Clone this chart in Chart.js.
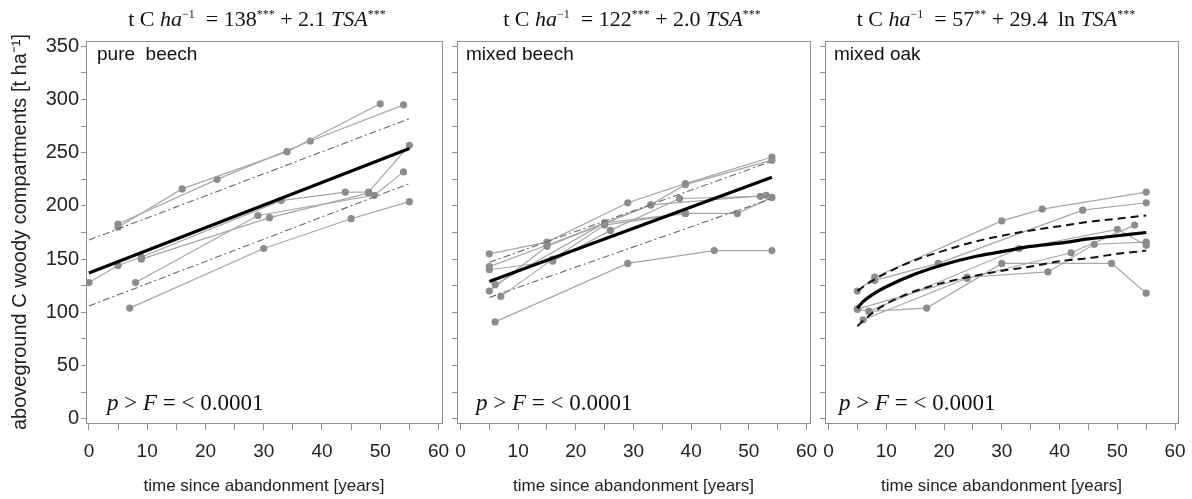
<!DOCTYPE html>
<html>
<head>
<meta charset="utf-8">
<script src="https://cdn.jsdelivr.net/npm/chart.js@4.4.1/dist/chart.umd.min.js"></script>
<style>
  html, body { margin:0; padding:0; background:#fff; }
  #wrap { position:relative; width:1192px; height:499px; overflow:hidden; background:#fff; }
  .panel { position:absolute; top:0; }
  .eq { position:absolute; top:6px; font-family:"Liberation Serif","DejaVu Serif",serif; font-size:22px; color:#111; white-space:nowrap; transform:translateX(-50%); }
  .eq sup { font-size:12px; vertical-align:8px; line-height:0; }
  .lab { position:absolute; top:43px; font-family:"Liberation Sans",Arial,sans-serif; font-size:19px; color:#111; white-space:pre; }
  .pf { position:absolute; top:390px; font-family:"Liberation Serif","DejaVu Serif",serif; font-size:23px; color:#111; white-space:pre; }
</style>
</head>
<body>
<div id="wrap">
  <div class="panel" style="left:0px"><canvas id="c1" width="450" height="499"></canvas></div>
  <div class="panel" style="left:447px"><canvas id="c2" width="375" height="499"></canvas></div>
  <div class="panel" style="left:815px"><canvas id="c3" width="375" height="499"></canvas></div>

  <div class="eq" style="left:257px">t C <i>ha</i><sup>−1</sup> &nbsp;= 138<sup>***</sup> + 2.1 <i>TSA</i><sup>***</sup></div>
  <div class="eq" style="left:632px">t C <i>ha</i><sup>−1</sup> &nbsp;= 122<sup>***</sup> + 2.0 <i>TSA</i><sup>***</sup></div>
  <div class="eq" style="left:996px">t C <i>ha</i><sup>−1</sup> &nbsp;= 57<sup>**</sup> + 29.4 &thinsp;ln <i>TSA</i><sup>***</sup></div>

  <div class="lab" style="left:97px">pure  beech</div>
  <div class="lab" style="left:466px">mixed beech</div>
  <div class="lab" style="left:834px">mixed oak</div>

  <div class="pf" style="left:107px"><i>p</i> &gt; <i>F</i> = &lt; 0.0001</div>
  <div class="pf" style="left:476px"><i>p</i> &gt; <i>F</i> = &lt; 0.0001</div>
  <div class="pf" style="left:839px"><i>p</i> &gt; <i>F</i> = &lt; 0.0001</div>
</div>
<script>
// ---------- tick labels ----------
const xTickValues = [0,5,10,15,20,25,30,35,40,45,50,55,60];
const yTickValues = [0,25,50,75,100,125,150,175,200,225,250,275,300,325,350];
const yAxisTitle = 'aboveground C woody compartments [t ha⁻¹]';
const xAxisTitle = 'time since abandonment [years]';

// ---------- pure beech: plot trajectories [years, t/ha] ----------
const pb1 = [[5,180],[16,216],[34,251],[50,296]];
const pb2 = [[5,183],[22,225],[38,261],[54,295]];
const pb3 = [[0,128],[5,144],[9,152],[33,205],[44,213],[48,213],[55,257]];
const pb4 = [[8,128],[29,191],[49,210],[54,232]];
const pb5 = [[7,104],[30,160],[45,188],[55,204]];
const pb6 = [[9,150],[31,189],[48,212]];
const pbFit = [[0,137],[55,254]];
const pbUpper = [[0,168],[55,282]];
const pbLower = [[0,106],[55,221]];

// ---------- mixed beech ----------
const mb1 = [[6,91],[29,146],[44,158],[54,158]];
const mb2 = [[5,155],[15,166],[29,203],[39,221],[54,246]];
const mb3 = [[5,143],[15,163],[25,184],[33,201],[39,220],[54,243]];
const mb4 = [[5,140],[16,148],[26,177],[38,207],[52,209]];
const mb5 = [[6,126],[25,184],[39,193],[48,193],[54,208]];
const mb6 = [[5,120],[15,162],[33,201],[53,210]];
const mb7 = [[7,115],[16,150],[25,182],[39,193]];
const mbFit = [[5,129],[54,227]];
const mbUpper = [[5,147],[54,242]];
const mbLower = [[5,114],[54,207]];

// ---------- mixed oak ----------
const mo1 = [[5,120],[8,133],[30,186],[37,197],[55,213]];
const mo2 = [[8,130],[19,146],[44,196],[55,203]];
const mo3 = [[5,103],[7,101],[17,104],[30,146],[49,146],[55,118]];
const mo4 = [[5,103],[24,133],[38,138],[46,164],[55,166]];
const mo5 = [[6,93],[24,132],[42,156],[53,182]];
const mo6 = [[7,101],[33,160],[50,178],[55,163]];
const moFitT   = [5,6,8,10,15,20,25,30,35,40,45,50,55];
const moFit    = [104,110,118,124,136,145,152,157,162,165,169,172,175];
const moUpper  = [120,124,131,137,149,158,166,172,177,181,185,188,191];
const moLower  = [87,92,101,108,120,128,134,139,143,148,151,155,158];

// ---------- helpers ----------
const toXY = arr => arr.map(p => ({x:p[0], y:p[1]}));
const zipXY = (xs, ys) => xs.map((x,i) => ({x:x, y:ys[i]}));
const GRAY_LINE = '#a6a6a6';
const GRAY_PT = '#8c8c8c';
const AXIS = '#8f8f8f';
const SANS = '"Liberation Sans", Arial, sans-serif';

function traj(arr) {
  return { data: toXY(arr), showLine: true, borderColor: GRAY_LINE, borderWidth: 1.2,
    pointRadius: 3.6, pointBackgroundColor: GRAY_PT, pointBorderWidth: 0, order: 3 };
}
function fitLine(data, curved) {
  return { data: data, showLine: true, borderColor: '#000', borderWidth: 3.2, pointRadius: 0,
    cubicInterpolationMode: curved ? 'monotone' : 'default', order: 1 };
}
function band(data, curved, strong) {
  return { data: data, showLine: true, borderColor: strong ? '#111' : '#666',
    borderWidth: strong ? 2 : 1.1, borderDash: strong ? [8,5] : [7,3,2,3], pointRadius: 0,
    cubicInterpolationMode: curved ? 'monotone' : 'default', order: 2 };
}

const boxPlugin = {
  id: 'box',
  afterDraw(chart) {
    const a = chart.chartArea, ctx = chart.ctx;
    ctx.save();
    ctx.strokeStyle = AXIS; ctx.lineWidth = 1;
    ctx.strokeRect(Math.round(a.left)+0.5, Math.round(a.top)+0.5, Math.round(a.right-a.left), Math.round(a.bottom-a.top));
    ctx.restore();
  }
};

function zeroPad(s) { s.paddingLeft = 0; s.paddingRight = 0; s.paddingTop = 0; s.paddingBottom = 0; }

function makeChart(id, datasets, opts) {
  return new Chart(document.getElementById(id), {
    type: 'scatter',
    data: { datasets: datasets },
    options: {
      responsive: false, animation: false, devicePixelRatio: 1,
      layout: { padding: { top: 41, right: opts.padRight, bottom: 0, left: 0 } },
      plugins: { legend: { display: false }, tooltip: { enabled: false }, title: { display: false } },
      scales: {
        x: {
          type: 'linear', min: opts.xmin, max: opts.xmax,
          afterBuildTicks: s => { s.ticks = xTickValues.map(v => ({value: v})); },
          afterFit: s => { s.height = 76; zeroPad(s); },
          ticks: { font: { family: SANS, size: 19 }, color: '#222', padding: 10, maxRotation: 0,
                   autoSkip: false, callback: v => (v % 10 === 0 ? String(v) : '') },
          grid: { drawOnChartArea: false, drawTicks: true, tickLength: 7, color: AXIS },
          border: { display: true, color: AXIS },
          title: { display: true, text: xAxisTitle, font: { family: SANS, size: 17 }, color: '#222',
                   padding: { top: 0, bottom: 2 } }
        },
        y: {
          type: 'linear', min: -4, max: 355,
          afterBuildTicks: s => { s.ticks = yTickValues.map(v => ({value: v})); },
          afterFit: s => { s.width = opts.yWidth; zeroPad(s); },
          ticks: { display: true, font: { family: SANS, size: 20 }, color: '#222', padding: 2,
                   autoSkip: false,
                   callback: v => (opts.yLabels && v % 50 === 0 ? String(v) : '') },
          grid: { drawOnChartArea: false, drawTicks: true, tickLength: 5, color: AXIS },
          border: { display: true, color: AXIS },
          title: { display: opts.yLabels, text: yAxisTitle, font: { family: SANS, size: 20 }, color: '#222',
                   padding: { top: 8, bottom: 0 } }
        }
      }
    },
    plugins: [boxPlugin]
  });
}

makeChart('c1', [
  traj(pb1), traj(pb2), traj(pb3), traj(pb4), traj(pb5), traj(pb6),
  band(toXY(pbUpper), false, false), band(toXY(pbLower), false, false),
  fitLine(toXY(pbFit), false)
], { xmin: -0.5, xmax: 60.6, yWidth: 86, padRight: 8, yLabels: true });

makeChart('c2', [
  traj(mb1), traj(mb2), traj(mb3), traj(mb4), traj(mb5), traj(mb6), traj(mb7),
  band(toXY(mbUpper), false, false), band(toXY(mbLower), false, false),
  fitLine(toXY(mbFit), false)
], { xmin: -0.6, xmax: 60.6, yWidth: 10, padRight: 12, yLabels: false });

makeChart('c3', [
  traj(mo1), traj(mo2), traj(mo3), traj(mo4), traj(mo5), traj(mo6),
  band(zipXY(moFitT, moUpper), true, true), band(zipXY(moFitT, moLower), true, true),
  fitLine(zipXY(moFitT, moFit), true)
], { xmin: -0.6, xmax: 60.5, yWidth: 10, padRight: 12, yLabels: false });
</script>
</body>
</html>
